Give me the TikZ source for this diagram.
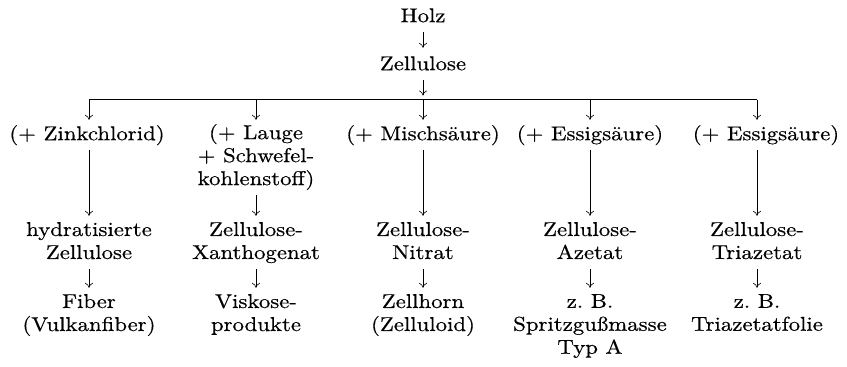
\documentclass[tikz,border=0pt]{standalone}
\usepackage{fontspec}
\setmainfont{lmroman10-regular.otf}[FakeStretch=1.14,FakeBold=0.5]
\usetikzlibrary{arrows.meta}
\newcommand\fsz{\fontsize{20}{23}\selectfont\frenchspacing}
\tikzset{
  lbl/.style={inner sep=0pt, anchor=north, yshift=16.1pt, align=center, font=\fsz,
    execute at begin node=\strut, execute at end node=\strut},
  arr/.style={-{To[length=5pt,width=8pt]}, line width=0.6pt, shorten <=3pt, shorten >=6pt},
  bar/.style={line width=0.6pt}
}
\begin{document}
\begin{tikzpicture}[x=1pt,y=-1pt]
\useasboundingbox (0,0) rectangle (847,367);
\node[lbl] (holz) at (423,22) {Holz};
\node[lbl] (zell) at (423,70) {Zellulose};
\draw[arr] (holz) -- (zell);
\coordinate (t1) at (89,99.5);
\coordinate (t2) at (256,99.5);
\coordinate (t3) at (423,99.5);
\coordinate (t4) at (590,99.5);
\coordinate (t5) at (757,99.5);
\draw[bar] (t1) -- (t5);
\draw[arr, shorten >=4pt] (zell) -- (t3);
% reagents
\node[lbl] (r1) at (87,140) {(+ Zinkchlorid)};
\node[lbl] (r2) at (256,140) {(+ Lauge\\+ Schwefel-\\kohlenstoff)};
\node[lbl] (r3) at (423,140) {(+ Mischsäure)};
\node[lbl] (r4) at (590,140) {(+ Essigsäure)};
\node[lbl] (r5) at (766,140) {(+ Essigsäure)};
% intermediate products
\node[lbl] (p1) at (89,238) {hydratisierte\\Zellulose};
\node[lbl] (p2) at (256,238) {Zellulose-\\Xanthogenat};
\node[lbl] (p3) at (423,238) {Zellulose-\\Nitrat};
\node[lbl] (p4) at (590,238) {Zellulose-\\Azetat};
\node[lbl] (p5) at (757,238) {Zellulose-\\Triazetat};
% final products
\node[lbl] (f1) at (89,310) {Fiber\\(Vulkanfiber)};
\node[lbl] (f2) at (256,310) {Viskose-\\produkte};
\node[lbl] (f3) at (423,310) {Zellhorn\\(Zelluloid)};
\node[lbl] (f4) at (590,310) {z. B.\\Spritzgußmasse\\Typ A};
\node[lbl] (f5) at (757,310) {z. B.\\Triazetatfolie};
% arrows from bar to reagents
\foreach \i in {1,...,5}{
  \draw[arr, shorten <=0pt, shorten >=4pt] (t\i) -- (t\i |- r\i.north);
}
% reagents to products
\foreach \i in {1,...,5}{
  \draw[arr] (r\i.south -| p\i.north) -- (p\i);
  \draw[arr] (p\i) -- (f\i);
}
\end{tikzpicture}
\end{document}
